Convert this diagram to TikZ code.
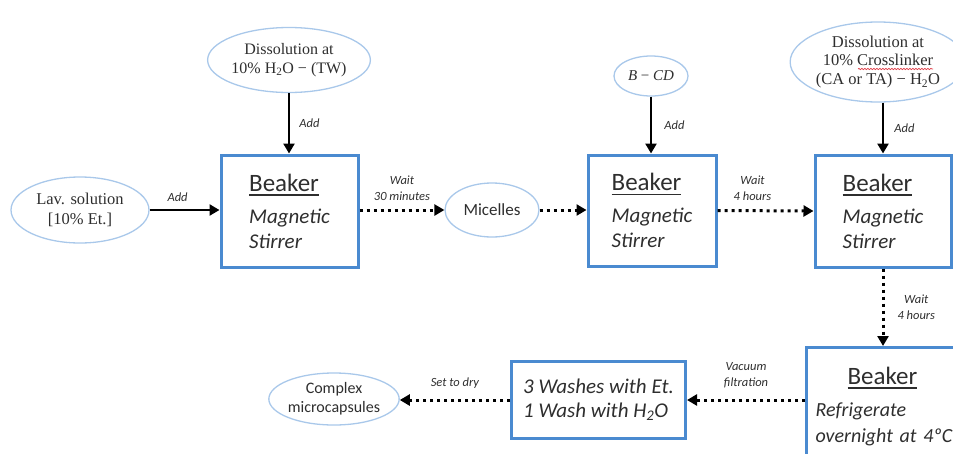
\documentclass[tikz,border=0pt]{standalone}
\usepackage{fontspec}
\setmainfont{Carlito}
\newfontfamily\cambfont{Liberation Serif}
\usetikzlibrary{arrows.meta,shapes.geometric,decorations.pathmorphing}

\definecolor{boxblue}{HTML}{4A8AD0}
\definecolor{ellblue}{HTML}{A9C8EA}
\definecolor{ink}{HTML}{2E2E2E}
\definecolor{spellred}{HTML}{E0404A}

% heading with a heavier underline than \underline gives
\newcommand\ulhead[1]{\setbox0\hbox{#1}\rlap{\rule[-4.6pt]{\wd0}{1.7pt}}\box0}

\begin{document}
\begin{tikzpicture}[x=1pt,y=-1pt,
  ell/.style={ellipse,draw=ellblue,line width=1.3pt,inner sep=0pt,
    text=ink,align=center},
  stepbox/.style={rectangle,draw=boxblue,line width=3pt,inner sep=0pt,
    text=ink,align=left,font=\itshape\fontsize{21}{25}\selectfont},
  solidarr/.style={line width=2.8pt,-{Triangle[length=10pt,width=11pt]}},
  dotarr/.style={line width=3pt,dash pattern=on 3pt off 4pt,
    -{Triangle[length=10pt,width=11pt]}},
  lbl/.style={font=\itshape\fontsize{12.5}{16}\selectfont,text=ink,
    align=center,inner sep=0pt}]

\useasboundingbox (0,0) rectangle (953,453);

% ---- ellipses
\node[ell,minimum width=138pt,minimum height=66pt,
  font=\cambfont\fontsize{16.5}{19.5}\selectfont] (lav) at (80,210)
  {Lav. solution\\{[}10\% Et.{]}};
\node[ell,minimum width=138pt,minimum height=65pt,
  font=\cambfont\fontsize{16}{19}\selectfont] (diss1) at (289,60)
  {Dissolution at\\10\% H\textsubscript{2}O − (TW)};
\node[ell,minimum width=94pt,minimum height=54pt,
  font=\fontsize{17}{20}\selectfont] (micelles) at (492,210) {Micelles};
\node[ell,minimum width=74pt,minimum height=40pt,
  font=\cambfont\itshape\fontsize{15}{18}\selectfont] (bcd) at (651,76)
  {B \textup{−} CD};
\node[ell,minimum width=146pt,minimum height=80pt,
  font=\cambfont\fontsize{16.5}{18.5}\selectfont] (diss3) at (878,62)
  {Dissolution at\\10\% Crosslinker\\(CA or TA) − H\textsubscript{2}O};
\node[ell,minimum width=123pt,minimum height=52pt,
  font=\fontsize{16}{19}\selectfont] (complex) at (334,399)
  {Complex\\microcapsules};

% spell-check squiggle under "Crosslinker"
\draw[spellred,line width=0.7pt,decorate,
  decoration={snake,amplitude=0.7pt,segment length=3pt}]
  ([xshift=-20pt,yshift=-7pt]diss3.center) -- ([xshift=55pt,yshift=-7pt]diss3.center);

% ---- beaker boxes
\node[stepbox,minimum width=137pt,minimum height=112pt] (box1) at (289.5,211)
  {{\upshape\fontsize{25}{28}\selectfont\ulhead{Beaker}}\\[7pt]Magnetic\\Stirrer};
\node[stepbox,minimum width=128pt,minimum height=111pt] (box2) at (652,210.5)
  {{\upshape\fontsize{25}{28}\selectfont\ulhead{Beaker}}\\[7pt]Magnetic\\Stirrer};
\node[stepbox,minimum width=136pt,minimum height=112pt] (box3) at (883,211)
  {{\upshape\fontsize{25}{28}\selectfont\ulhead{Beaker}}\\[7pt]Magnetic\\Stirrer};
\node[stepbox,anchor=north west,minimum width=152pt,minimum height=118pt,
  inner xsep=9pt,text width=134pt,font=\itshape\fontsize{20}{26}\selectfont]
  (box4) at (805,346)
  {{\centering\upshape\fontsize{25}{28}\selectfont\ulhead{Beaker}\par}
   \vspace{6pt}\raggedright Refrigerate\\\mbox{overnight at 4ºC}};
\node[stepbox,minimum width=174pt,minimum height=77pt,
  font=\itshape\fontsize{21}{24}\selectfont] (wash) at (598.5,400)
  {3 Washes with Et.\\1 Wash with H\textsubscript{2}O};

% ---- connectors
\draw[solidarr] (lav.east) -- (lav.east -| box1.west)
  node[lbl,midway,above=7pt,xshift=-7pt] (l1) {Add};
\draw[solidarr] (diss1.south) -- (diss1.south |- box1.north)
  node[lbl,midway,right=9pt] (l2) {Add};
\draw[dotarr] (box1.east |- micelles.west) -- (micelles.west)
  node[lbl,midway,above=8pt] (l3) {Wait\\30 minutes};
\draw[dotarr] (micelles.east) -- (micelles.east -| box2.west);
\draw[solidarr] (bcd.south) -- (bcd.south |- box2.north)
  node[lbl,midway,right=12pt] (l4) {Add};
\draw[dotarr] (box2.east) -- (box3.west)
  node[lbl,midway,above=9pt,xshift=-13pt] (l5) {Wait\\4 hours};
\draw[solidarr] (box3.north |- diss3.south) -- (box3.north)
  node[lbl,midway,right=10pt] (l6) {Add};
\draw[dotarr] (box3.south) -- (box3.south |- box4.north)
  node[lbl,midway,right=13pt] (l7) {Wait\\4 hours};
\draw[dotarr] (wash.east -| box4.west) -- (wash.east)
  node[lbl,midway,above=11pt] (l8) {Vacuum\\filtration};
\draw[dotarr] (wash.west) -- (wash.west -| complex.east)
  node[lbl,midway,above=10pt] (l9) {Set to dry};
\end{tikzpicture}
\end{document}
